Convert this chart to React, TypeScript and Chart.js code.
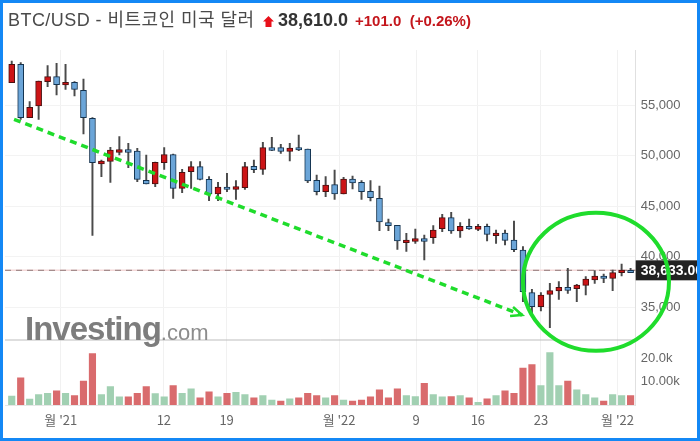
import { useEffect, useRef } from "react";
import { Chart, registerables } from "chart.js";

Chart.register(...registerables);

const opens = [
  57211, 59026, 53746, 54901, 57310, 57805, 56980, 57244, 56452, 53680,
  49159, 49423, 50314, 50578, 50446, 47542, 47179, 49291, 50083, 46750,
  48400, 48895, 47641, 46189, 46882, 46651, 46816, 48928, 48631, 50776,
  50776, 50413, 50776, 50644, 47542, 46420, 47113, 46189, 47674, 47344,
  46453, 45760, 43351, 43087, 41371, 41503, 41767, 41866, 42757, 43846,
  42526, 42988, 42691, 42988, 42064, 42328, 41635, 40645, 36421, 35035,
  36256, 36586, 36949, 36817, 37147, 37675, 38071, 37840, 38401, 38632,
];
const closes = [
  59026, 53746, 54769, 57376, 57805, 57013, 57244, 56551, 53746, 49291,
  49456, 50545, 50578, 50314, 47641, 47179, 49324, 50083, 46750, 48334,
  48895, 47641, 46189, 46882, 46651, 46915, 48895, 48598, 50776, 50512,
  50413, 50743, 50545, 47476, 46420, 47080, 46189, 47674, 47278, 46420,
  45826, 43417, 43054, 41536, 41635, 41767, 41503, 42625, 43846, 42526,
  42988, 42724, 42988, 42196, 42328, 41602, 40678, 36520, 35035, 36190,
  36619, 36949, 36652, 37180, 37774, 38071, 37840, 38401, 38665, 38401,
];
const highs = [
  59356, 59191, 55330, 57376, 58894, 59125, 59026, 57310, 57574, 53746,
  49555, 50809, 51865, 51205, 50710, 50050, 49357, 50776, 50149, 48631,
  49390, 49390, 47905, 47344, 48235, 47509, 49324, 49555, 51304, 51799,
  51106, 51205, 52030, 50644, 48070, 47905, 48565, 47839, 47971, 47509,
  47509, 46981, 43714, 43087, 42295, 42724, 42130, 43054, 44176, 44374,
  43351, 43714, 43186, 43219, 42625, 42625, 43516, 40975, 36751, 36421,
  37345, 37510, 38830, 37246, 38005, 38599, 38269, 38665, 39259, 38830,
];
const lows = [
  57211, 53581, 53746, 53581, 56815, 55990, 56551, 55891, 52129, 42097,
  47905, 47344, 50050, 48796, 47410, 47179, 46915, 48631, 45760, 46321,
  46750, 47575, 45529, 45529, 46420, 45661, 46651, 48301, 48136, 50479,
  50215, 49456, 50479, 47311, 46090, 45925, 45661, 46189, 46684, 45661,
  45496, 42559, 42559, 40711, 40513, 41305, 39655, 41305, 42460, 42295,
  41899, 42691, 42559, 41536, 41305, 41140, 40480, 35530, 34210, 34606,
  32956, 35761, 36355, 35530, 36190, 37345, 37411, 36619, 38071, 38401,
];
const volumes = [
  3780, 11620, 2520, 4480, 5040, 6020, 5040, 4060, 10220, 21980,
  4480, 7840, 3500, 3500, 5040, 7840, 4900, 3500, 8260, 5040,
  6860, 3080, 5600, 3500, 5040, 5460, 4480, 3080, 4060, 2100,
  1680, 2660, 3080, 5040, 4060, 3080, 4060, 2100, 1680, 2100,
  3500, 6440, 3080, 6860, 4060, 3640, 9240, 4480, 3500, 3640,
  4060, 3080, 1120, 2660, 4060, 6020, 5040, 15820, 17220, 8260,
  22400, 8260, 10220, 6440, 4480, 3080, 1680, 4480, 4060, 4060,
];
// 1 = red volume bar, 0 = green
const volumeRed = [
  0, 1, 0, 0, 0, 1, 0, 1, 1, 1,
  0, 0, 0, 1, 1, 1, 0, 0, 1, 0,
  0, 1, 1, 0, 1, 0, 0, 1, 0, 0,
  1, 0, 1, 1, 1, 0, 1, 0, 1, 1,
  1, 1, 1, 1, 0, 0, 1, 0, 0, 1,
  0, 1, 0, 1, 0, 1, 1, 1, 1, 0,
  0, 0, 1, 0, 0, 0, 1, 0, 0, 1,
];

const priceTicks = [35000, 40000, 45000, 50000, 55000];
const volumeTicks = [10000, 20000];
const volumeTickLabels = ["10.00k", "20.0k"];
const dateTickIndexes = [5.47, 16.96, 23.96, 36.5, 45.09, 51.97, 59, 67.55];
const dateTickLabels = ["월 '21", "12", "19", "월 '22", "9", "16", "23", "월 '22"];

const lastPrice = 38633;
const lastPriceLabel = "38,633.00";
const separatorPrice = 31735;
const trendLineX = [0.26, 56.9];
const trendLineY = [53584, 34210];
const circleCenterX = 65.14;
const circleCenterY = 37497;
const circleRadiusX = 8.14;
const circleRadiusY = 6831;

const xMin = -0.75;
const xMax = 69.57;
const green = "#1fdc2c";
const axisFont = "13px 'Liberation Sans', Arial, sans-serif";

// volume tick labels, price label, trend arrow head and the hand drawn circle
const overlayPlugin = {
  id: "overlay",
  afterDraw(chart: any) {
    const { ctx, scales } = chart;
    const x = scales.x;
    const y = scales.y;

    ctx.save();
    ctx.textBaseline = "middle";
    ctx.fillStyle = "#666666";
    ctx.font = axisFont;
    volumeTicks.forEach((tick, i) => {
      ctx.fillText(volumeTickLabels[i], x.right + 5, scales.yVol.getPixelForValue(tick));
    });

    const labelY = y.getPixelForValue(lastPrice);
    ctx.fillStyle = "#222222";
    ctx.fillRect(x.right, labelY - 10, 700 - x.right, 20);
    ctx.fillStyle = "#ffffff";
    ctx.font = "bold 14px 'Liberation Sans', Arial, sans-serif";
    ctx.fillText(lastPriceLabel, x.right + 5, labelY + 1);

    const tipX = x.getPixelForValue(trendLineX[1]);
    const tipY = y.getPixelForValue(trendLineY[1]);
    ctx.strokeStyle = green;
    ctx.lineWidth = 2.5;
    ctx.beginPath();
    ctx.moveTo(tipX - 9, tipY - 8);
    ctx.lineTo(tipX, tipY);
    ctx.lineTo(tipX - 12, tipY + 1);
    ctx.stroke();

    const cx = x.getPixelForValue(circleCenterX);
    const cy = y.getPixelForValue(circleCenterY);
    const rx = x.getPixelForValue(circleCenterX + circleRadiusX) - cx;
    const ry = cy - y.getPixelForValue(circleCenterY + circleRadiusY);
    ctx.lineWidth = 4;
    ctx.beginPath();
    ctx.ellipse(cx, cy, rx, ry, 0, 0, Math.PI * 2);
    ctx.stroke();
    ctx.restore();
  },
};

export default function App() {
  const chartRef = useRef<HTMLCanvasElement | null>(null);

  useEffect(() => {
    const canvas = chartRef.current;
    if (!canvas) return;

    const chart = new Chart(canvas, {
      type: "bar",
      plugins: [overlayPlugin],
      data: {
        datasets: [
          {
            type: "line",
            data: trendLineX.map((x, i) => ({ x, y: trendLineY[i] })),
            yAxisID: "y",
            borderColor: green,
            borderWidth: 3.5,
            borderDash: [7, 5],
            pointRadius: 0,
            order: 0,
          },
          {
            label: "wick",
            data: highs.map((h, i) => ({ x: i, y: [lows[i], h] })),
            yAxisID: "y",
            backgroundColor: "#4a4a4a",
            barThickness: 1.3,
            grouped: false,
            order: 3,
          },
          {
            label: "body",
            data: opens.map((o, i) => ({ x: i, y: [o, closes[i]] })),
            yAxisID: "y",
            backgroundColor: opens.map((o, i) => (closes[i] >= o ? "#cc1416" : "#6ba5d8")),
            borderColor: opens.map((o, i) => (closes[i] >= o ? "#4a1010" : "#14334f")),
            borderWidth: 1,
            borderSkipped: false,
            barThickness: 6,
            grouped: false,
            order: 2,
          },
          {
            label: "volume",
            data: volumes.map((v, i) => ({ x: i, y: v })),
            yAxisID: "yVol",
            backgroundColor: volumeRed.map((r) => (r ? "#d96b6d" : "#a1d0b2")),
            barThickness: 6.5,
            grouped: false,
            order: 4,
          },
          {
            type: "line",
            data: [{ x: xMin, y: lastPrice }, { x: xMax, y: lastPrice }],
            yAxisID: "y",
            borderColor: "#a58c8c",
            borderWidth: 1.2,
            borderDash: [6, 5],
            pointRadius: 0,
            order: 5,
          },
          {
            type: "line",
            data: [{ x: xMin, y: lastPrice }, { x: xMax, y: lastPrice }],
            yAxisID: "y",
            borderColor: "#f4d8d8",
            borderWidth: 1.5,
            pointRadius: 0,
            order: 6,
          },
          {
            type: "line",
            data: [{ x: xMin, y: separatorPrice }, { x: xMax, y: separatorPrice }],
            yAxisID: "y",
            borderColor: "#bdbdbd",
            borderWidth: 1,
            pointRadius: 0,
            order: 7,
          },
        ],
      } as any,
      options: {
        animation: false,
        responsive: false,
        layout: { autoPadding: false, padding: { left: 5, top: 50, right: 0, bottom: 0 } },
        plugins: { legend: { display: false }, tooltip: { enabled: false } },
        scales: {
          x: {
            type: "linear",
            offset: false,
            min: xMin,
            max: xMax,
            afterBuildTicks: (scale: any) => {
              scale.ticks = dateTickIndexes.map((value) => ({ value }));
            },
            afterFit: (scale: any) => {
              scale.height = 36;
            },
            ticks: {
              autoSkip: false,
              maxRotation: 0,
              padding: 7,
              color: "#666666",
              font: { size: 13, family: "'Noto Sans CJK KR', 'Liberation Sans', sans-serif" },
              callback: (_v: any, i: number) => dateTickLabels[i],
            },
            grid: { color: "#f1f1f1", drawTicks: false, offset: false },
            border: { color: "#e6e6e6" },
          },
          yVol: {
            type: "linear",
            display: false,
            position: "right",
            min: 0,
            max: 151700,
          },
          y: {
            type: "linear",
            position: "right",
            min: 25300,
            max: 60445,
            afterBuildTicks: (scale: any) => {
              scale.ticks = priceTicks.map((value) => ({ value }));
            },
            afterFit: (scale: any) => {
              scale.width = 64.3;
            },
            ticks: {
              padding: 5,
              color: "#666666",
              font: { size: 13, family: "'Liberation Sans', Arial, sans-serif" },
              callback: (v: any) => Number(v).toLocaleString("en-US"),
            },
            grid: { color: "#f3f3f3", drawTicks: false },
            border: { color: "#e0e0e0" },
          },
        },
      },
    } as any);

    return () => {
      chart.destroy();
    };
  }, []);

  const sans = "'Liberation Sans', 'Noto Sans CJK KR', Arial, sans-serif";
  return (
    <div style={{ position: "fixed", left: 0, top: 0, width: 700, height: 441, background: "#fff", overflow: "hidden", fontFamily: sans }}>
      <canvas ref={chartRef} width={700} height={441} style={{ position: "absolute", left: 0, top: 0, display: "block" }}></canvas>
      <div style={{ position: "absolute", left: 8, top: 9, fontSize: 18, letterSpacing: 0.45, lineHeight: "22px", color: "#4a4a4a", whiteSpace: "nowrap" }}>
        BTC/USD - 비트코인 미국 달러
      </div>
      <svg width={11} height={11} style={{ position: "absolute", left: 263, top: 16 }}>
        <polygon points="5.5,0 11,5.5 8.5,5.5 8.5,11 2.5,11 2.5,5.5 0,5.5" fill="#e8101a" />
      </svg>
      <div style={{ position: "absolute", left: 278, top: 9, fontSize: 18, lineHeight: "22px", fontWeight: "bold", color: "#333", whiteSpace: "nowrap" }}>
        38,610.0
      </div>
      <div style={{ position: "absolute", left: 355, top: 10, fontSize: 15, lineHeight: "22px", fontWeight: "bold", color: "#c4161c", whiteSpace: "pre" }}>
        +101.0  (+0.26%)
      </div>
      <div style={{ position: "absolute", left: 25, top: 309, lineHeight: "40px", color: "#7d7d7d", whiteSpace: "nowrap" }}>
        <span style={{ fontSize: 33, fontWeight: "bold", letterSpacing: -1 }}>Investing</span>
        <span style={{ fontSize: 22, color: "#8c8c8c" }}>.com</span>
      </div>
      <div style={{ position: "absolute", inset: 0, border: "3px solid #1488f5", pointerEvents: "none" }}></div>
    </div>
  );
}
